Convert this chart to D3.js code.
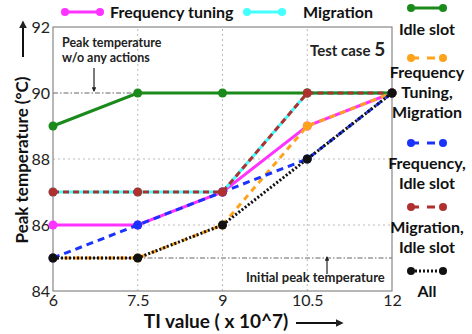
<!DOCTYPE html>
<html>
<head>
<meta charset="utf-8">
<script src="https://cdn.jsdelivr.net/npm/d3@7"></script>
<style>
  body { margin: 0; background: #fff; }
  svg { font-family: Lato, "Open Sans", sans-serif; }
</style>
</head>
<body>
<div id="chart"></div>
<script>
const tiValues = [6, 7.5, 9, 10.5, 12];
const yTicks = [84, 86, 88, 90, 92];

const freqTuning = [86, 86, 87, 89, 90];
const migration = [87, 87, 87, 90, 90];
const idleSlot = [89, 90, 90, 90, 90];
const freqMig = [85, 85, 86, 89, 90];
const freqIdle = [85, 86, 87, 88, 90];
const migIdle = [87, 87, 87, 90, 90];
const allActions = [85, 85, 86, 88, 90];

const peakNoAction = 90;
const initialPeak = 85;

const series = [
  { name: 'Frequency tuning', values: freqTuning, color: '#ff33ff', dash: null },
  { name: 'Migration', values: migration, color: '#44ffff', dash: null },
  { name: 'Idle slot', values: idleSlot, color: '#1a8a1a', dash: null },
  { name: 'Frequency Tuning, Migration', values: freqMig, color: '#ffa31a', dash: '6,5' },
  { name: 'Frequency, Idle slot', values: freqIdle, color: '#1a33ff', dash: '7,5' },
  { name: 'Migration, Idle slot', values: migIdle, color: '#b03030', dash: '6,4' },
  { name: 'All', values: allActions, color: '#111', dash: '2,2' }
];

const W = 472, H = 334;
const m = { left: 53, right: 80, top: 27, bottom: 43 };

const svg = d3.select('#chart').append('svg')
  .attr('width', W).attr('height', H);

const x = d3.scaleLinear().domain([6, 12]).range([m.left, W - m.right]);
const y = d3.scaleLinear().domain([84, 92]).range([H - m.bottom, m.top]);

// grid
svg.append('g').selectAll('line.gx')
  .data(tiValues.slice(1, -1))
  .enter().append('line')
  .attr('x1', d => x(d)).attr('x2', d => x(d))
  .attr('y1', y(84)).attr('y2', y(92))
  .attr('stroke', '#bbb').attr('stroke-width', 1).attr('stroke-dasharray', '2,3');

svg.append('g').selectAll('line.gy')
  .data([86, 88])
  .enter().append('line')
  .attr('x1', x(6)).attr('x2', x(12))
  .attr('y1', d => y(d)).attr('y2', d => y(d))
  .attr('stroke', '#bbb').attr('stroke-width', 1).attr('stroke-dasharray', '2,3');

// reference lines (dash-dot)
svg.append('g').selectAll('line.ref')
  .data([peakNoAction, initialPeak])
  .enter().append('line')
  .attr('x1', x(6)).attr('x2', x(12))
  .attr('y1', d => y(d)).attr('y2', d => y(d))
  .attr('stroke', '#999').attr('stroke-width', 1.5).attr('stroke-dasharray', '5,2,1.5,2');

// axes frame
svg.append('rect')
  .attr('x', x(6)).attr('y', y(92))
  .attr('width', x(12) - x(6)).attr('height', y(84) - y(92))
  .attr('fill', 'none').attr('stroke', '#888').attr('stroke-width', 1.2);

const xAxis = svg.append('g')
  .attr('transform', `translate(0,${y(84)})`)
  .call(d3.axisBottom(x).tickValues(tiValues).tickSize(0).tickPadding(4)
    .tickFormat(d3.format('')));
xAxis.select('.domain').remove();
xAxis.selectAll('text').attr('font-size', 16).attr('fill', '#222')
  .attr('font-family', 'Lato, sans-serif');

const yAxis = svg.append('g')
  .attr('transform', `translate(${x(6)},0)`)
  .call(d3.axisLeft(y).tickValues(yTicks).tickSize(0).tickPadding(3));
yAxis.select('.domain').remove();
yAxis.selectAll('text').attr('font-size', 16).attr('fill', '#222')
  .attr('font-family', 'Lato, sans-serif');

// lines
const line = d3.line().x((d, i) => x(tiValues[i])).y(d => y(d));

series.forEach(s => {
  const g = svg.append('g');
  g.append('path')
    .attr('d', line(s.values))
    .attr('fill', 'none')
    .attr('stroke', s.color)
    .attr('stroke-width', 3)
    .attr('stroke-dasharray', s.dash);
  g.selectAll('circle')
    .data(s.values)
    .enter().append('circle')
    .attr('cx', (d, i) => x(tiValues[i]))
    .attr('cy', d => y(d))
    .attr('r', 4.5)
    .attr('fill', s.color);
});

// annotations
const annot = svg.append('g').attr('font-weight', 'bold').attr('font-size', 12.5).attr('fill', '#222');
annot.append('text').attr('x', 62).attr('y', 47).text('Peak temperature');
annot.append('text').attr('x', 62).attr('y', 62).text('w/o any actions');
annot.append('text').attr('x', 246).attr('y', 282).attr('font-size', 13).text('Initial peak temperature');
svg.append('text').attr('x', 310).attr('y', 56)
  .attr('font-weight', 'bold').attr('font-size', 15).attr('fill', '#222')
  .text('Test case ').append('tspan').attr('font-size', 19).text('5');

// annotation arrows
svg.append('defs').append('marker')
  .attr('id', 'ah').attr('viewBox', '0 0 10 10')
  .attr('refX', 8).attr('refY', 5)
  .attr('markerWidth', 4).attr('markerHeight', 4)
  .attr('orient', 'auto')
  .append('path').attr('d', 'M0,0 L10,5 L0,10 z').attr('fill', '#222');

svg.append('line').attr('x1', 94).attr('y1', 68).attr('x2', 94).attr('y2', y(peakNoAction) - 2)
  .attr('stroke', '#222').attr('stroke-width', 1.2).attr('marker-end', 'url(#ah)');
svg.append('line').attr('x1', 327).attr('y1', 274).attr('x2', 327).attr('y2', 257)
  .attr('stroke', '#222').attr('stroke-width', 1.2).attr('marker-end', 'url(#ah)');

// axis labels with arrows
svg.append('text')
  .attr('transform', `translate(28,${160}) rotate(-90)`)
  .attr('text-anchor', 'middle')
  .attr('font-weight', 'bold').attr('font-size', 17).attr('fill', '#111')
  .text('Peak temperature (°C)');
svg.append('text')
  .attr('x', 216).attr('y', 328)
  .attr('text-anchor', 'middle')
  .attr('font-weight', 'bold').attr('font-size', 19).attr('fill', '#111')
  .text('TI value ( x 10^7)');

svg.append('line').attr('x1', 23).attr('y1', 57).attr('x2', 23).attr('y2', 22)
  .attr('stroke', '#111').attr('stroke-width', 2).attr('marker-end', 'url(#ah)');
svg.append('line').attr('x1', 296).attr('y1', 323).attr('x2', 342).attr('y2', 323)
  .attr('stroke', '#111').attr('stroke-width', 2).attr('marker-end', 'url(#ah)');

// top legend
const topLegend = [
  { s: series[0], lx: 65, tx: 110 },
  { s: series[1], lx: 247, tx: 303 }
];
topLegend.forEach(d => {
  const g = svg.append('g');
  g.append('line').attr('x1', d.lx).attr('x2', d.lx + 35).attr('y1', 12).attr('y2', 12)
    .attr('stroke', d.s.color).attr('stroke-width', 3);
  g.selectAll('circle').data([d.lx, d.lx + 35]).enter().append('circle')
    .attr('cx', v => v).attr('cy', 12).attr('r', 4).attr('fill', d.s.color);
  g.append('text').attr('x', d.tx).attr('y', 18)
    .attr('font-weight', 'bold').attr('font-size', 16).attr('fill', '#111')
    .text(d.s.name);
});

// right legend
const rightLegend = [
  { s: series[2], ly: 8, lines: ['Idle slot'], ty: 35 },
  { s: series[3], ly: 58, lines: ['Frequency', 'Tuning,', 'Migration'], ty: 78 },
  { s: series[4], ly: 143, lines: ['Frequency,', 'Idle slot'], ty: 169 },
  { s: series[5], ly: 207, lines: ['Migration,', 'Idle slot'], ty: 233 },
  { s: series[6], ly: 271, lines: ['All'], ty: 297 }
];
const cx = 427;
rightLegend.forEach(d => {
  const g = svg.append('g');
  g.append('line').attr('x1', cx - 16).attr('x2', cx + 16).attr('y1', d.ly).attr('y2', d.ly)
    .attr('stroke', d.s.color).attr('stroke-width', 3)
    .attr('stroke-dasharray', d.s.dash === '2,2' ? '2,2' : (d.s.dash ? '8,8' : null))
    .attr('stroke-dashoffset', d.s.dash && d.s.dash !== '2,2' ? 0 : null);
  g.selectAll('circle').data([cx - 16, cx + 16]).enter().append('circle')
    .attr('cx', v => v).attr('cy', d.ly).attr('r', 4).attr('fill', d.s.color);
  g.selectAll('text').data(d.lines).enter().append('text')
    .attr('x', cx).attr('y', (t, i) => d.ty + i * 20)
    .attr('text-anchor', 'middle')
    .attr('font-weight', 'bold').attr('font-size', 16).attr('fill', '#111')
    .text(t => t);
});
</script>
</body>
</html>
